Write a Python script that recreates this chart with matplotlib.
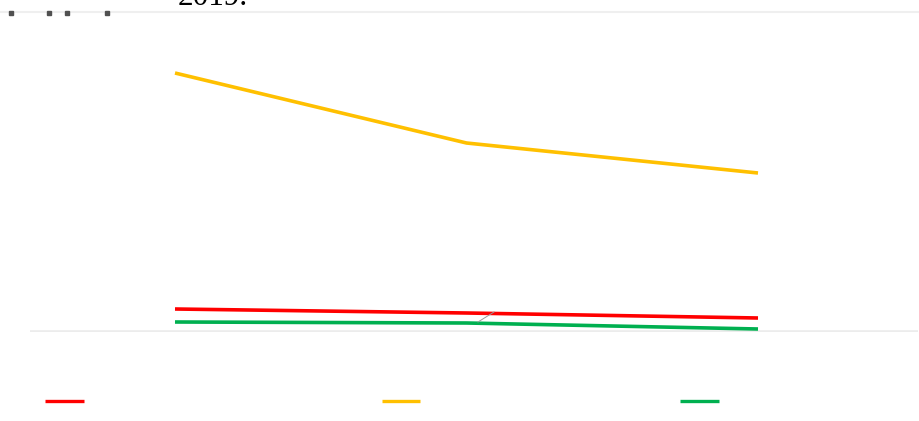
import matplotlib
matplotlib.use("Agg")
import matplotlib.pyplot as plt
from matplotlib.lines import Line2D

# Three periods, three series
periods = ["2017", "2018", "2019"]
series_names = ["Series A", "Series B", "Series C"]
series_a = [2.3, 1.9, 1.4]     # red
series_b = [25.9, 18.9, 15.9]  # amber
series_c = [1.0, 0.9, 0.3]     # green
colors = ["#FF0000", "#FFC000", "#00B050"]

W, H = 920, 421
fig = plt.figure(figsize=(W / 100, H / 100), dpi=100)
fig.patch.set_facecolor("white")

def fx(px):
    return px / W

def fy(py):
    return 1 - py / H

ax = fig.add_axes([fx(30), fy(332), fx(918) - fx(30), fy(40) - fy(332)])
ax.set_facecolor("white")
x = list(range(len(periods)))
for vals, c in zip([series_a, series_b, series_c], colors):
    ax.plot(x, vals, color=c, lw=2.6, solid_capstyle="butt")
ax.set_xlim(-145 / 291.5, (918 - 175) / 291.5)
ax.set_ylim(0, 29.2)
ax.axhline(0, color="#ECECEC", lw=2.6, zorder=0)
for s in ax.spines.values():
    s.set_visible(False)
ax.set_xticks([])
ax.set_yticks([])

# thin leader line between the lower series
fig.add_artist(Line2D([fx(478), fx(494)], [fy(322), fy(312)], color="#9A9A9A", lw=0.7))

# header rule and title text running off the top edge
fig.add_artist(Line2D([0, 1], [fy(11.5), fy(11.5)], color="#EFEFEF", lw=1.5))
fig.text(fx(178), fy(5), "2019.", family=["Liberation Serif", "DejaVu Serif"],
         fontsize=22.5, color="black", va="baseline")
for px in [11, 49, 67, 107]:
    fig.add_artist(Line2D([fx(px)], [fy(13)], marker="s", markersize=2.8, color="#505050", lw=0))

# legend keys
for (x0, x1), c in zip([(45, 84), (382, 420), (680, 719)], colors):
    fig.add_artist(Line2D([fx(x0), fx(x1)], [fy(401), fy(401)], color=c, lw=2.4, solid_capstyle="butt"))

fig.savefig("out.png", dpi=100, facecolor="white")
